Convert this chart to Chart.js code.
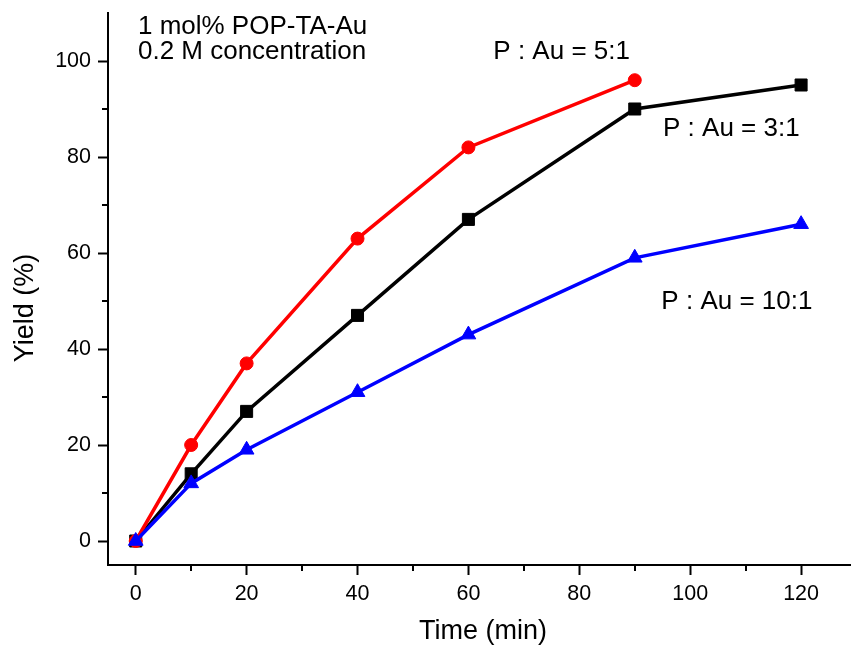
<!DOCTYPE html>
<html>
<head>
<meta charset="utf-8">
<script src="https://cdn.jsdelivr.net/npm/chart.js@4/dist/chart.umd.min.js"></script>
<style>
  html, body { margin: 0; padding: 0; background: #fff; }
  canvas { display: block; }
</style>
</head>
<body>
<canvas id="c" width="851" height="647"></canvas>
<script>
// data
const timeMin = [0, 10, 20, 40, 60, 90, 120];
const yield3to1 = [0, 14, 27, 47, 67, 90, 95];
const yield5to1 = [0, 20, 37, 63, 82, 96];
const yield10to1 = [0, 12, 19, 31, 43, 59, 66];

const xMajor = [0, 20, 40, 60, 80, 100, 120];
const xMinor = [10, 30, 50, 70, 90, 110];
const yMajor = [0, 20, 40, 60, 80, 100];
const yMinor = [10, 30, 50, 70, 90];

const FONT = '"Liberation Sans", Arial, Helvetica, sans-serif';

function pts(xs, ys) {
  return ys.map((y, i) => ({ x: xs[i], y: y }));
}

// minor ticks, axis titles and text labels
const extras = {
  id: 'extras',
  afterDraw(chart) {
    const ctx = chart.ctx;
    const xs = chart.scales.x, ys = chart.scales.y;
    const area = chart.chartArea;
    ctx.save();
    ctx.strokeStyle = '#000';
    ctx.lineWidth = 2;
    ctx.beginPath();
    xMinor.forEach(v => {
      const px = Math.round(xs.getPixelForValue(v));
      ctx.moveTo(px, area.bottom);
      ctx.lineTo(px, area.bottom + 6);
    });
    yMinor.forEach(v => {
      const py = Math.round(ys.getPixelForValue(v));
      ctx.moveTo(area.left, py);
      ctx.lineTo(area.left - 6, py);
    });
    ctx.stroke();

    ctx.fillStyle = '#000';
    ctx.textBaseline = 'middle';
    ctx.textAlign = 'center';
    ctx.font = '27px ' + FONT;
    ctx.fillText('Time (min)', 483, 632);
    ctx.save();
    ctx.translate(26, 308);
    ctx.rotate(-Math.PI / 2);
    ctx.fillText('Yield (%)', 0, 0);
    ctx.restore();

    const lab = (txt, x, y, size) => {
      ctx.font = size + 'px ' + FONT;
      ctx.textAlign = 'left';
      ctx.fillText(txt, xs.getPixelForValue(x), ys.getPixelForValue(y));
    };
    lab('1 mol% POP-TA-Au', 0.4, 107.1, 26);
    lab('0.2 M concentration', 0.4, 102.0, 26);
    lab('P : Au = 5:1', 64.5, 101.9, 26);
    lab('P : Au = 3:1', 95.1, 85.9, 26);
    lab('P : Au = 10:1', 94.8, 49.8, 26);
    ctx.restore();
  }
};

new Chart(document.getElementById('c'), {
  type: 'line',
  data: {
    datasets: [
      {
        label: 'P : Au = 10:1',
        data: pts(timeMin, yield10to1),
        borderColor: '#0000ff',
        backgroundColor: '#0000ff',
        pointStyle: 'triangle',
        pointRadius: 8.5
      },
      {
        label: 'P : Au = 5:1',
        data: pts(timeMin, yield5to1),
        borderColor: '#ff0000',
        backgroundColor: '#ff0000',
        pointStyle: 'circle',
        pointRadius: 6.5
      },
      {
        label: 'P : Au = 3:1',
        data: pts(timeMin, yield3to1),
        borderColor: '#000000',
        backgroundColor: '#000000',
        pointStyle: 'rect',
        pointRadius: 8.5
      }
    ]
  },
  options: {
    responsive: false,
    animation: false,
    layout: { padding: { top: 13, right: 0, left: 0, bottom: 0 }, autoPadding: false },
    elements: {
      line: { borderWidth: 3.5, tension: 0 },
      point: { borderWidth: 1 }
    },
    plugins: {
      legend: { display: false },
      tooltip: { enabled: false }
    },
    scales: {
      x: {
        type: 'linear',
        min: -5,
        max: 129,
        afterBuildTicks: s => { s.ticks = xMajor.map(v => ({ value: v })); },
        afterFit: s => { s.height = 82; s.paddingLeft = 0; s.paddingRight = 0; },
        border: { display: true, color: '#000', width: 2 },
        grid: { display: true, drawOnChartArea: false, drawTicks: true, tickLength: 10, tickWidth: 2, tickColor: '#000' },
        ticks: { color: '#000', padding: 6, maxRotation: 0, font: { family: FONT, size: 21.5 } }
      },
      y: {
        type: 'linear',
        min: -5,
        max: 110,
        afterBuildTicks: s => { s.ticks = yMajor.map(v => ({ value: v })); },
        afterFit: s => { s.width = 108; s.paddingTop = 0; s.paddingBottom = 0; },
        border: { display: true, color: '#000', width: 2 },
        grid: { display: true, drawOnChartArea: false, drawTicks: true, tickLength: 10, tickWidth: 2, tickColor: '#000' },
        ticks: { color: '#000', padding: 7, font: { family: FONT, size: 21.5 } }
      }
    }
  },
  plugins: [extras]
});
</script>
</body>
</html>
